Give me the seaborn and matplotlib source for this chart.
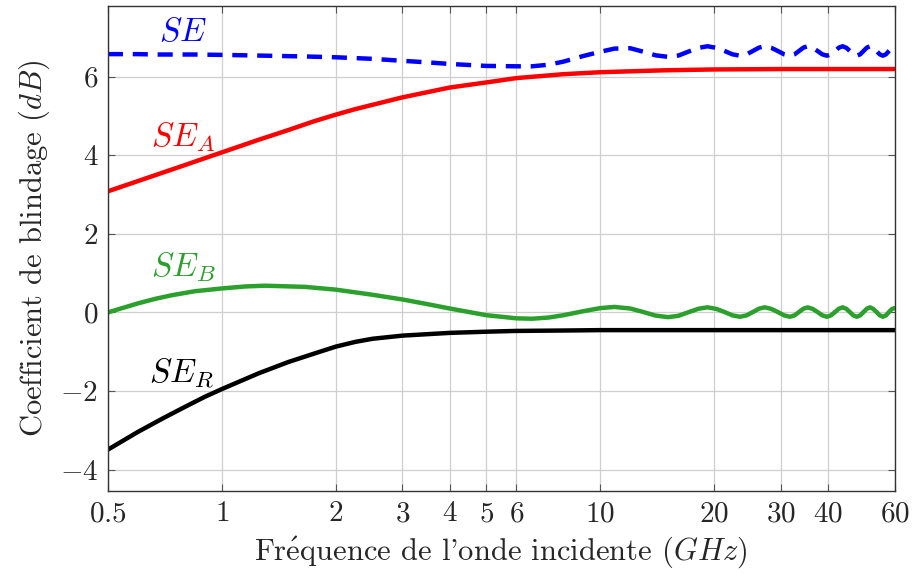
"""Shielding effectiveness vs. frequency (SE, SE_A, SE_B, SE_R)."""

import numpy as np
import pandas as pd
import matplotlib
matplotlib.use("Agg")
import matplotlib.pyplot as plt
import seaborn as sns

# ---- data -----------------------------------------------------------------
# smooth curves: absorption (SE_A) and reflection (SE_R)
freq_smooth = [0.5, 0.6, 0.7, 0.8, 0.9, 1.0, 1.25, 1.5, 1.75, 2.0, 2.25, 2.5,
               3.0, 4.0, 5.0, 6.0, 8.0, 10.0, 15.0, 20.0, 30.0, 40.0, 60.0]
se_a = [3.08, 3.34, 3.56, 3.75, 3.92, 4.07, 4.39, 4.64, 4.86, 5.03, 5.17, 5.28,
        5.47, 5.72, 5.85, 5.96, 6.06, 6.11, 6.16, 6.18, 6.19, 6.19, 6.19]
se_r = [-3.49, -3.04, -2.69, -2.40, -2.15, -1.95, -1.55, -1.26, -1.05, -0.87,
        -0.75, -0.67, -0.59, -0.52, -0.49, -0.47, -0.46, -0.45, -0.45, -0.45,
        -0.45, -0.45, -0.45]

# oscillating curves: multiple reflections (SE_B) and total (SE)
freq_osc = [0.5, 0.55, 0.6, 0.67, 0.74, 0.85, 1.0, 1.15, 1.3, 1.66, 2.0, 2.5,
            3.0, 3.5, 4.0, 5.0, 6.0, 6.6, 7.3, 8.0, 9.0, 10.0, 10.9,
            12.0, 13.0, 14.0, 15.1, 16.1, 17.15, 18.2, 19.2,
            20.25, 21.3, 22.35, 23.4, 24.35, 25.3, 26.25, 27.2,
            28.3, 29.45, 30.6, 31.7, 32.6, 33.5, 34.4, 35.3,
            36.4, 37.5, 38.6, 39.7, 40.7, 41.7, 42.7, 43.7,
            44.7, 45.65, 46.6, 47.6, 48.6, 49.6, 50.6, 51.6,
            52.6, 53.7, 54.75, 55.8, 56.85, 57.9, 59.0, 60.0]
se_b = [0.00, 0.12, 0.23, 0.35, 0.44, 0.54, 0.61, 0.66, 0.68, 0.65, 0.58, 0.45,
        0.33, 0.21, 0.10, -0.07, -0.15, -0.16, -0.13, -0.07, 0.03, 0.11, 0.14,
        0.10, 0.01, -0.08, -0.12, -0.085, 0.01, 0.095, 0.13,
        0.09, 0.01, -0.075, -0.11, -0.075, 0.01, 0.095, 0.13,
        0.09, 0.01, -0.075, -0.11, -0.075, 0.01, 0.095, 0.13,
        0.09, 0.01, -0.075, -0.11, -0.075, 0.01, 0.095, 0.13,
        0.09, 0.01, -0.075, -0.11, -0.075, 0.01, 0.095, 0.13,
        0.09, 0.01, -0.075, -0.11, -0.075, 0.01, 0.09, 0.11]
se_total = [6.57, 6.57, 6.57, 6.56, 6.56, 6.56, 6.55, 6.54, 6.53, 6.51, 6.49, 6.45,
            6.40, 6.36, 6.32, 6.27, 6.26, 6.26, 6.30, 6.38, 6.52, 6.63, 6.71,
            6.72, 6.63, 6.54, 6.50, 6.535, 6.64, 6.73, 6.77,
            6.73, 6.65, 6.565, 6.53, 6.565, 6.65, 6.735, 6.77,
            6.73, 6.65, 6.565, 6.53, 6.565, 6.65, 6.735, 6.77,
            6.73, 6.65, 6.565, 6.53, 6.565, 6.65, 6.735, 6.77,
            6.73, 6.65, 6.565, 6.53, 6.565, 6.65, 6.735, 6.77,
            6.73, 6.65, 6.565, 6.53, 6.565, 6.65, 6.73, 6.75]

x_ticks = [0.5, 1, 2, 3, 4, 5, 6, 10, 20, 30, 40, 60]
x_tick_labels = ["0.5", "1", "2", "3", "4", "5", "6", "10", "20", "30", "40", "60"]
y_ticks = [-4, -2, 0, 2, 4, 6]

# ---- style ----------------------------------------------------------------
sns.set_theme(style="whitegrid")
plt.rcParams["font.family"] = "serif"
plt.rcParams["font.serif"] = ["cmr10", "DejaVu Serif"]
plt.rcParams["mathtext.fontset"] = "cm"
plt.rcParams["axes.formatter.use_mathtext"] = True
plt.rcParams["axes.unicode_minus"] = False

fig = plt.figure(figsize=(9.14, 5.76), dpi=100)
ax = fig.add_axes([0.118, 0.147, 0.861, 0.843])

df_smooth = pd.DataFrame({"f": freq_smooth, "SE_A": se_a, "SE_R": se_r})
df_osc = pd.DataFrame({"f": freq_osc, "SE_B": se_b, "SE": se_total})

lw = 3.2
sns.lineplot(data=df_smooth, x="f", y="SE_A", color="#ff0000", lw=lw, ax=ax)
sns.lineplot(data=df_smooth, x="f", y="SE_R", color="black", lw=lw, ax=ax)
sns.lineplot(data=df_osc, x="f", y="SE_B", color="#2ca02c", lw=lw, ax=ax)
sns.lineplot(data=df_osc, x="f", y="SE", color="#0000ff", lw=lw, ax=ax)
ax.lines[-1].set_dashes([3.4, 2.2])

ax.set_xscale("log")
ax.set_xlim(0.5, 60)
ax.set_ylim(-4.55, 7.8)
ax.set_xticks(x_ticks)
ax.set_xticklabels([f"${t}$" for t in x_tick_labels])
ax.xaxis.set_minor_locator(matplotlib.ticker.NullLocator())
ax.set_yticks(y_ticks)
ax.set_yticklabels([f"${t}$" for t in y_ticks])
ax.tick_params(axis="both", which="major", labelsize=21, direction="in",
               length=5, width=0.8, color="#555555", top=True, right=True,
               bottom=True, left=True, pad=7)

ax.grid(True, color="#cfcfcf", linewidth=0.9)
ax.set_facecolor("white")
for sp in ax.spines.values():
    sp.set_color("#333333")
    sp.set_linewidth(1.0)

ax.set_xlabel(r"Fr$\mathrm{\acute{e}}$quence de l'onde incidente ($GHz$)",
              fontsize=22, labelpad=5)
ax.set_ylabel("Coefficient de blindage ($dB$)", fontsize=22, labelpad=6)

# curve labels
lab = 24
ax.text(0.79, 7.12, "$SE$", color="#0000ff", fontsize=lab, ha="center", va="center")
ax.text(0.79, 4.45, "$SE_A$", color="#ff0000", fontsize=lab, ha="center", va="center")
ax.text(0.79, 1.15, "$SE_B$", color="#2ca02c", fontsize=lab, ha="center", va="center")
ax.text(0.78, -1.55, "$SE_R$", color="black", fontsize=lab, ha="center", va="center")

plt.savefig("out.png", dpi=100)
plt.close()
